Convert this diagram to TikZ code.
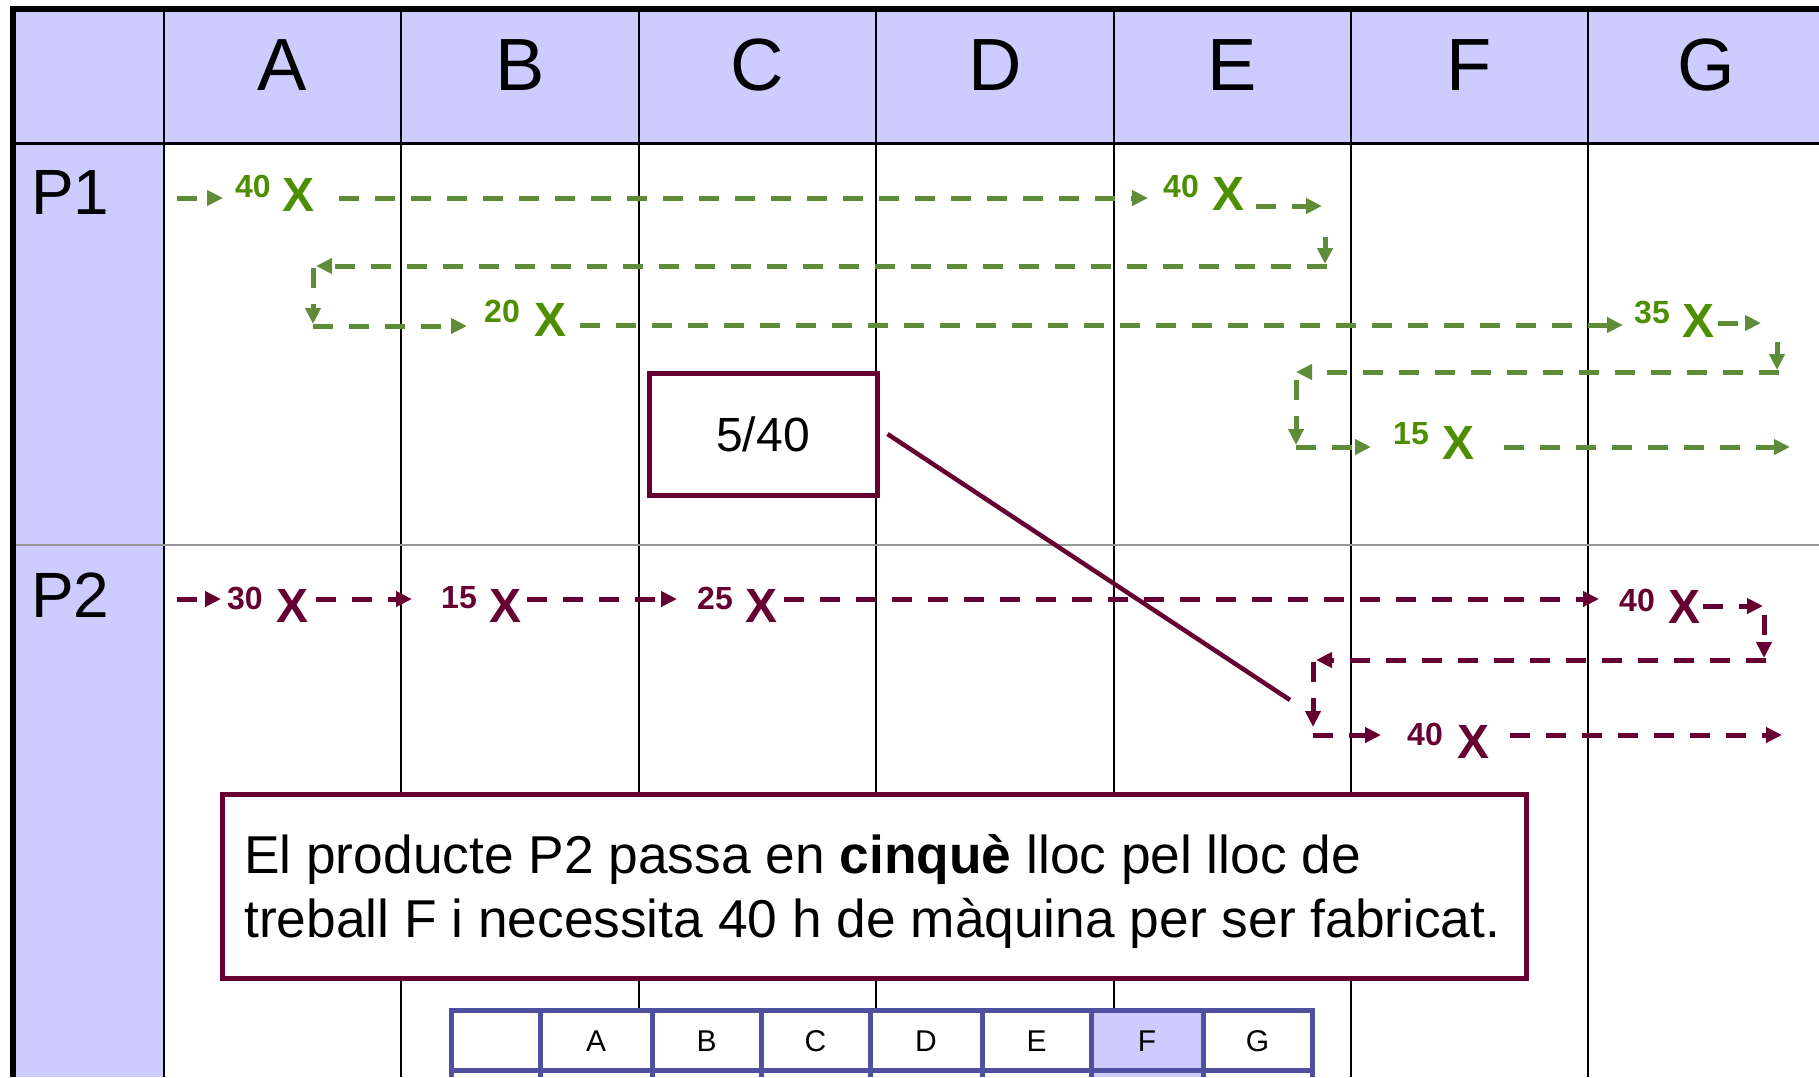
\documentclass[tikz,border=0pt]{standalone}
\usepackage{fontspec}
\setmainfont{Liberation Sans}
\usetikzlibrary{arrows.meta}
\definecolor{lav}{RGB}{204,204,255}
\definecolor{grnL}{RGB}{94,140,56}
\definecolor{grnX}{RGB}{77,143,0}
\definecolor{mar}{RGB}{102,0,51}
\definecolor{tblc}{RGB}{80,80,160}
\definecolor{sep}{RGB}{150,150,150}
\begin{document}
\begin{tikzpicture}[x=1pt,y=-1pt,
  tipstyle/.style={-{Triangle[length=16pt,width=15pt]}},
  gline/.style={draw=grnL,line width=5pt,dash pattern=on 20pt off 16pt,tipstyle},
  mline/.style={draw=mar,line width=5pt,dash pattern=on 20pt off 16pt,tipstyle},
  gnum/.style={text=grnX,font=\fontsize{32}{32}\selectfont\bfseries,inner sep=0pt},
  gx/.style={text=grnX,font=\fontsize{48}{48}\selectfont\bfseries,inner sep=0pt},
  mnum/.style={text=mar,font=\fontsize{32}{32}\selectfont\bfseries,inner sep=0pt},
  mx/.style={text=mar,font=\fontsize{48}{48}\selectfont\bfseries,inner sep=0pt},
  hdr/.style={font=\fontsize{74}{74}\selectfont,inner sep=0pt},
  rowlab/.style={font=\fontsize{64}{64}\selectfont,inner sep=0pt,anchor=west},
  grid/.style={draw=black,line width=2pt},
  tb/.style={draw=tblc,line width=5pt},
  tbl/.style={font=\fontsize{30}{30}\selectfont,inner sep=0pt},
  expltext/.style={font=\fontsize{53.3}{53.3}\selectfont,inner sep=0pt,anchor=base west}]
\useasboundingbox (0,0) rectangle (1819,1077);
\fill[white] (0,0) rectangle (1819,1077);
% fills
\fill[lav] (13,9) rectangle (1819,143);
\fill[lav] (13,143) rectangle (164,1077);
% grid
\foreach \x in {164,401,639,876,1114,1351,1588}
  \draw[grid] (\x,9) -- (\x,1077);
\draw[black,line width=3pt] (13,143) -- (1819,143);
\draw[sep,line width=2.5pt] (13,545) -- (1819,545);
\draw[black,line width=6pt] (10,9) -- (1819,9);
\draw[black,line width=6pt] (13,6) -- (13,1077);
% headers
\node[hdr] (hA) at (282.5,65) {A};
\node[hdr] (hB) at (520,65) {B};
\node[hdr] (hC) at (757.5,65) {C};
\node[hdr] (hD) at (995,65) {D};
\node[hdr] (hE) at (1232.5,65) {E};
\node[hdr] (hF) at (1469.5,65) {F};
\node[hdr] (hG) at (1706,65) {G};
\node[rowlab] (rP1) at (31,192) {P1};
\node[rowlab] (rP2) at (31,595) {P2};

% ---------- P1 route ----------
\node[gnum] (g1n) at (253,186) {40};
\node[gx] (g1x) at (299,195) {X};
\node[gnum] (g2n) at (1181,186) {40};
\node[gx] (g2x) at (1228,194) {X};
\node[gnum] (g3n) at (502,311) {20};
\node[gx] (g3x) at (550,320) {X};
\node[gnum] (g4n) at (1652,312) {35};
\node[gx] (g4x) at (1698,321) {X};
\node[gnum] (g5n) at (1411,434) {15};
\node[gx] (g5x) at (1458,443) {X};
\coordinate (ga0) at (177,198);  \coordinate (ga1) at (223,198);
\coordinate (gb0) at (339,198);  \coordinate (gb1) at (1148,198);
\coordinate (gc0) at (1256,206); \coordinate (gc1) at (1322,206);
\coordinate (gd0) at (1325,237); \coordinate (gd1) at (1325,264);
\coordinate (ge0) at (1327,266); \coordinate (ge1) at (316,266);
\coordinate (gf0) at (313,268);  \coordinate (gf1) at (313,324);
\coordinate (gg0) at (313,326);  \coordinate (gg1) at (467,326);
\coordinate (gh0) at (580,325);  \coordinate (gh1) at (1623,325);
\coordinate (gi0) at (1718,323); \coordinate (gi1) at (1761,323);
\coordinate (gj0) at (1777,342); \coordinate (gj1) at (1777,370);
\coordinate (gk0) at (1779,372); \coordinate (gk1) at (1296,372);
\coordinate (gl0) at (1296,380); \coordinate (gl1) at (1296,445);
\coordinate (gm0) at (1296,447); \coordinate (gm1) at (1371,447);
\coordinate (gn0) at (1504,447); \coordinate (gn1) at (1790,447);
\foreach \s in {a,b,c,d,e,f,g,h,i,j,k,l,m,n}
  \draw[gline] (g\s0) -- (g\s1);

% ---------- P2 route ----------
\node[mnum] (m1n) at (245,598) {30};
\node[mx] (m1x) at (293,606) {X};
\node[mnum] (m2n) at (459,598) {15};
\node[mx] (m2x) at (505,606) {X};
\node[mnum] (m3n) at (715,598) {25};
\node[mx] (m3x) at (761,606) {X};
\node[mnum] (m4n) at (1637,600) {40};
\node[mx] (m4x) at (1684,607) {X};
\node[mnum] (m5n) at (1425,734) {40};
\node[mx] (m5x) at (1473,742) {X};
\coordinate (ma0) at (177,599);  \coordinate (ma1) at (221,599);
\coordinate (mb0) at (316,599);  \coordinate (mb1) at (412,599);
\coordinate (mc0) at (527,599);  \coordinate (mc1) at (677,599);
\coordinate (md0) at (784,599);  \coordinate (md1) at (1599,599);
\coordinate (me0) at (1703,606); \coordinate (me1) at (1763,606);
\coordinate (mf0) at (1764,615); \coordinate (mf1) at (1764,658);
\coordinate (mg0) at (1766,660); \coordinate (mg1) at (1316,660);
\coordinate (mh0) at (1313,662); \coordinate (mh1) at (1313,727);
\coordinate (mi0) at (1313,735); \coordinate (mi1) at (1381,735);
\coordinate (mj0) at (1510,735); \coordinate (mj1) at (1782,735);
\foreach \s in {a,b,c,d,e,f,g,h,i,j}
  \draw[mline] (m\s0) -- (m\s1);

% ---------- callout 5/40 ----------
\node[draw=mar,line width=5pt,fill=white,minimum width=228pt,minimum height=122pt,
      inner sep=0pt,font=\fontsize{48}{48}\selectfont] (frac) at (763,434) {5/40};
\coordinate (cEnd) at (1290,700);
\draw[mar,line width=4.5pt] ([xshift=8pt]frac.east) -- (cEnd);

% ---------- explanation box ----------
\node[draw=mar,line width=5pt,fill=white,minimum width=1304pt,minimum height=184pt,
      inner sep=0pt] (expl) at (874,886) {};
\node[expltext] (l1) at (244,873.5)
  {El producte P2 passa en \textbf{cinquè} lloc pel lloc de};
\node[expltext] (l2) at (244,937.5)
  {treball F i necessita 40 h de màquina per ser fabricat.};

% ---------- small table ----------
\fill[white] (451,1010) rectangle (1312,1077);
\fill[lav] (1091,1010) rectangle (1203,1077);
\draw[tb] (451,1077) -- (451,1010) -- (1312,1010) -- (1312,1077);
\draw[tb] (451,1070) -- (1312,1070);
\foreach \x in {540,652,761,870,982,1091,1203}
  \draw[tb] (\x,1010) -- (\x,1077);
\node[tbl] (tA) at (596,1041) {A};
\node[tbl] (tB) at (706.5,1041) {B};
\node[tbl] (tC) at (815.5,1041) {C};
\node[tbl] (tD) at (926,1041) {D};
\node[tbl] (tE) at (1036.5,1041) {E};
\node[tbl] (tF) at (1147,1041) {F};
\node[tbl] (tG) at (1257.5,1041) {G};
\end{tikzpicture}
\end{document}
